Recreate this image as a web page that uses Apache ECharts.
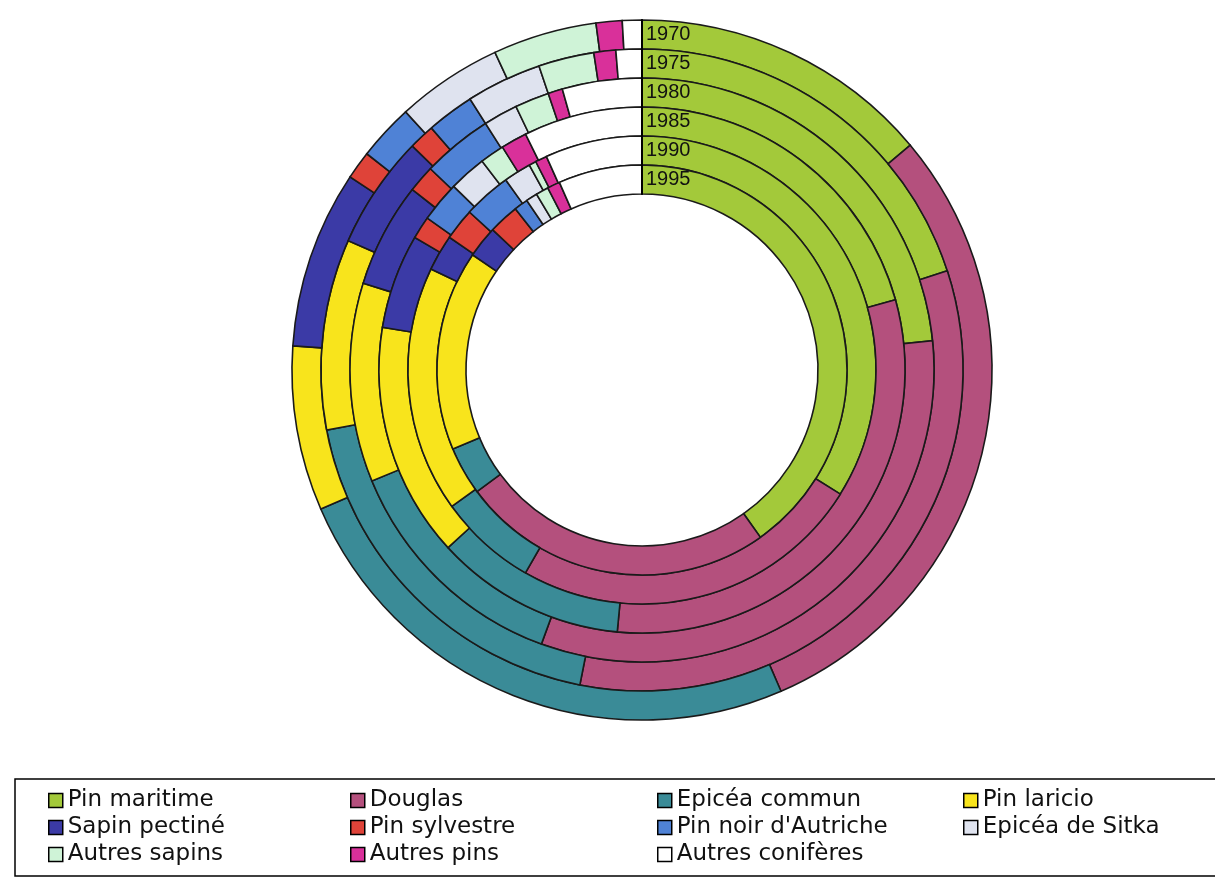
<!DOCTYPE html>
<html>
<head>
<meta charset="utf-8">
<script src="https://cdn.jsdelivr.net/npm/echarts@6/dist/echarts.min.js"></script>
<style>
  html, body { margin: 0; padding: 0; background: #ffffff; }
  #chart { width: 1215px; height: 878px; }
</style>
</head>
<body>
<div id="chart"></div>
<script>
  const years = ['1970', '1975', '1980', '1985', '1990', '1995'];
  const species = ['Pin maritime', 'Douglas', 'Epicéa commun', 'Pin laricio', 'Sapin pectiné', 'Pin sylvestre',
                   "Pin noir d'Autriche", 'Epicéa de Sitka', 'Autres sapins', 'Autres pins', 'Autres conifères'];

  // share of each species per ring (%), 1970 .. 1995
  const pinMaritime     = [13.9, 20.0, 23.4, 20.7, 33.9, 40.2];
  const douglas         = [29.6, 33.1, 32.2, 30.8, 24.4, 24.7];
  const epiceaCommun    = [25.0, 18.9, 13.2, 11.7, 6.8, 3.8];
  const pinLaricio      = [7.6, 9.6, 11.0, 14.4, 17.0, 15.8];
  const sapinPectine    = [8.2, 5.7, 5.8, 5.8, 2.5, 2.5];
  const pinSylvestre    = [1.3, 1.3, 1.5, 1.4, 2.2, 2.4];
  const pinNoir         = [2.6, 2.4, 3.9, 2.5, 3.3, 1.1];
  const epiceaSitka     = [4.9, 3.8, 1.9, 2.3, 1.9, 0.9];
  const autresSapins    = [4.8, 2.8, 1.9, 1.5, 0.5, 1.0];
  const autresPins      = [1.2, 1.1, 0.8, 1.6, 0.8, 1.0];
  const autresConiferes = [0.9, 1.3, 4.4, 7.3, 6.7, 6.6];

  const values = [pinMaritime, douglas, epiceaCommun, pinLaricio, sapinPectine, pinSylvestre,
                  pinNoir, epiceaSitka, autresSapins, autresPins, autresConiferes];
  const colors = ['#a3c93a', '#b4507d', '#3a8b97', '#f8e41c', '#3b3aa6', '#df4339',
                  '#4f82d6', '#dfe3ef', '#cff3d7', '#d9309a', '#ffffff'];

  const chart = echarts.init(document.getElementById('chart'));

  const legendFont = { fontFamily: 'DejaVu Sans', fontSize: 23, color: '#111', lineHeight: 27 };
  const makeLegend = (left, names) => ({
    orient: 'vertical',
    left: left,
    top: 782,
    itemGap: 0,
    itemWidth: 14,
    itemHeight: 14,
    icon: 'rect',
    selectedMode: false,
    data: names,
    itemStyle: { borderColor: '#000', borderWidth: 1.5 },
    textStyle: legendFont
  });

  const option = {
    animation: false,
    backgroundColor: '#ffffff',
    polar: {
      center: [642, 370],
      radius: [176, 350]
    },
    angleAxis: {
      type: 'value',
      min: 0,
      max: 100,
      startAngle: 90,
      clockwise: true,
      axisLine: { show: false },
      axisTick: { show: false },
      axisLabel: { show: false },
      splitLine: { show: false }
    },
    radiusAxis: {
      type: 'category',
      data: years,
      inverse: true,
      z: 10,
      axisLine: { lineStyle: { color: '#000', width: 2 } },
      axisTick: { show: false },
      splitLine: { show: false },
      axisLabel: {
        interval: 0,
        color: '#111',
        fontFamily: 'Liberation Sans',
        fontSize: 20,
        align: 'left',
        verticalAlign: 'middle',
        margin: -4
      }
    },
    legend: [
      makeLegend(43, [species[0], species[4], species[8]]),
      makeLegend(345, [species[1], species[5], species[9]]),
      makeLegend(652, [species[2], species[6], species[10]]),
      makeLegend(958, [species[3], species[7]])
    ],
    graphic: [
      {
        type: 'rect',
        shape: { x: 15, y: 779, width: 1210, height: 97 },
        style: { fill: 'none', stroke: '#000', lineWidth: 1.5 },
        silent: true
      }
    ],
    series: species.map((name, i) => ({
      name: name,
      type: 'bar',
      coordinateSystem: 'polar',
      stack: 'total',
      barCategoryGap: '0%',
      data: values[i],
      itemStyle: {
        color: colors[i],
        borderColor: '#1a1a1a',
        borderWidth: 1.6
      },
      emphasis: { disabled: true }
    }))
  };

  chart.setOption(option);
  window.addEventListener('resize', () => chart.resize());
</script>
</body>
</html>
